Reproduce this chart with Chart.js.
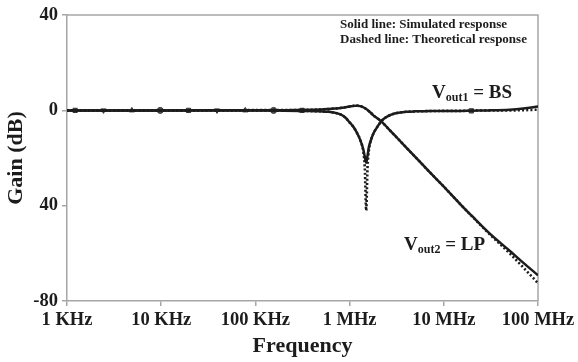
<!DOCTYPE html>
<html>
<head>
<meta charset="utf-8">
<script src="https://cdn.jsdelivr.net/npm/chart.js@4.4.1/dist/chart.umd.min.js"></script>
<style>
  html, body { margin: 0; padding: 0; background: #ffffff; }
  #wrap { width: 578px; height: 362px; position: relative; }
</style>
</head>
<body>
<div id="wrap"><canvas id="chart"></canvas></div>
<script>
// Frequency points (Hz) shared by all four response curves
const freqs = [1e3, 1e4, 1e5, 2e5, 3e5, 4e5, 5e5, 6e5, 7e5, 8e5, 9e5,
  1e6, 1.1e6, 1.2e6, 1.3e6, 1.4e6, 1.45e6, 1.5e6, 1.55e6, 1.6e6, 1.7e6, 1.8e6,
  2e6, 2.2e6, 2.5e6, 3e6, 4e6, 5e6, 7e6, 1e7, 1.5e7, 2e7, 3e7, 5e7, 7e7, 1e8];

// Band-stop output (Vout1), gain in dB
const bsSimulated = [0, 0, 0, -0.1, -0.2, -0.3, -0.4, -0.6, -1.0, -1.7, -3.0,
  -5.0, -7.0, -9.5, -12.5, -16.5, -19.5, -22, -19, -15.5, -12, -9.5,
  -6.5, -4.3, -2.6, -1.3, -0.6, -0.4, -0.3, -0.2, -0.2, -0.1, 0, 0.3, 0.8, 1.6];
const bsTheoretical = [0, 0, 0, -0.1, -0.2, -0.3, -0.4, -0.6, -1.0, -1.7, -3.0,
  -5.0, -7.0, -9.5, -12.5, -17.5, -24, -42, -24, -17, -12, -9.5,
  -6.5, -4.3, -2.6, -1.3, -0.6, -0.4, -0.3, -0.2, -0.2, -0.1, 0, 0, 0.1, 0.3];

// Low-pass output (Vout2), gain in dB
const lpSimulated = [0, 0, 0.1, 0.1, 0.2, 0.3, 0.4, 0.6, 0.8, 1.0, 1.3,
  1.6, 1.9, 2.0, 1.8, 1.3, 1.0, 0.6, 0.2, -0.3, -1.2, -2.2,
  -3.5, -4.8, -7.1, -10.4, -15.6, -19.6, -25.7, -32, -39.4, -44.4, -51.3, -58.9, -64, -69.2];
const lpTheoretical = [0, 0, 0.1, 0.1, 0.2, 0.3, 0.4, 0.6, 0.8, 1.0, 1.3,
  1.6, 1.9, 2.0, 1.8, 1.3, 1.0, 0.6, 0.2, -0.3, -1.2, -2.2,
  -3.5, -4.8, -7.1, -10.4, -15.6, -19.6, -25.7, -32, -39.4, -44.5, -51.6, -60, -66, -72.5];

// Simulation sample markers along the pass band
const sampleFreqs = [1.22e3, 2.44e3, 4.88e3, 9.77e3, 1.95e4, 3.91e4, 7.81e4, 1.56e5, 3.13e5, 1.96e7];
const sampleGains = [0, 0, 0, 0, 0, 0, 0, 0, 0, -0.2];
const sampleStyles = ['rect', 'triangle', 'triangle', 'circle', 'rect', 'triangle', 'triangle', 'circle', 'rect', 'rect'];
const sampleRotations = [0, 180, 0, 0, 0, 180, 0, 0, 0, 0];

// Axis ticks
const xTickValues = [1e3, 1e4, 1e5, 1e6, 1e7, 1e8];
const xTickLabels = ['1 KHz', '10 KHz', '100 KHz', '1 MHz', '10 MHz', '100 MHz'];
const yTickValues = [40, 0, -40, -80];
const yTickLabels = ['40', '0', '40', '-80'];

const SERIF = "'Liberation Serif', 'Times New Roman', serif";
const INK = '#1c1c1c';
const AXIS = '#a6a6a6';

const pts = (xs, ys) => xs.map((x, i) => ({ x: x, y: ys[i] }));

// Top and right frame of the plot area
const framePlugin = {
  id: 'frame',
  beforeDatasetsDraw(chart) {
    const { ctx, chartArea: a } = chart;
    ctx.save();
    ctx.strokeStyle = AXIS;
    ctx.lineWidth = 1.5;
    ctx.beginPath();
    ctx.moveTo(a.left, a.top);
    ctx.lineTo(a.right, a.top);
    ctx.lineTo(a.right, a.bottom);
    ctx.stroke();
    ctx.restore();
  }
};

// Text notes inside the plot
const notesPlugin = {
  id: 'notes',
  afterDraw(chart) {
    const { ctx } = chart;
    ctx.save();
    ctx.fillStyle = INK;
    ctx.textBaseline = 'alphabetic';
    ctx.textAlign = 'left';
    ctx.font = 'bold 13px ' + SERIF;
    ctx.fillText('Solid line: Simulated response', 340, 28);
    ctx.fillText('Dashed line: Theoretical response', 340, 43);

    const label = (x, y, sub, rest) => {
      ctx.font = 'bold 19px ' + SERIF;
      ctx.fillText('V', x, y);
      let cx = x + ctx.measureText('V').width;
      ctx.font = 'bold 12px ' + SERIF;
      ctx.fillText(sub, cx, y + 3);
      cx += ctx.measureText(sub).width;
      ctx.font = 'bold 19px ' + SERIF;
      ctx.fillText(rest, cx, y);
    };
    label(432, 98, 'out1', ' = BS');
    label(404, 250, 'out2', ' = LP');
    ctx.restore();
  }
};

const lineBase = {
  showLine: true,
  pointRadius: 0,
  borderColor: INK,
  backgroundColor: INK,
  borderWidth: 2.5,
  cubicInterpolationMode: 'monotone',
  fill: false
};
const dotted = { borderDash: [2, 2.2], borderWidth: 2.6 };

new Chart(document.getElementById('chart'), {
  type: 'scatter',
  data: {
    datasets: [
      Object.assign({ label: 'BS simulated', data: pts(freqs, bsSimulated) }, lineBase),
      Object.assign({ label: 'LP simulated', data: pts(freqs, lpSimulated) }, lineBase),
      Object.assign({ label: 'BS theoretical', data: pts(freqs, bsTheoretical) }, lineBase, dotted),
      Object.assign({ label: 'LP theoretical', data: pts(freqs, lpTheoretical) }, lineBase, dotted),
      {
        label: 'Samples',
        data: pts(sampleFreqs, sampleGains),
        showLine: false,
        pointStyle: sampleStyles,
        rotation: sampleRotations,
        pointRadius: 3,
        borderWidth: 1,
        borderColor: '#333',
        backgroundColor: '#555'
      }
    ]
  },
  options: {
    responsive: true,
    maintainAspectRatio: false,
    animation: false,
    events: [],
    layout: { padding: { top: 14, right: 40, left: 0, bottom: 0 } },
    plugins: { legend: { display: false }, tooltip: { enabled: false } },
    scales: {
      x: {
        type: 'logarithmic',
        min: 1e3,
        max: 1e8,
        afterBuildTicks: (s) => { s.ticks = xTickValues.map(v => ({ value: v })); },
        afterFit: (s) => { s.height = 61; },
        ticks: {
          autoSkip: false,
          maxRotation: 0,
          padding: 3,
          color: INK,
          font: { family: SERIF, size: 18.5, weight: 'bold' },
          callback: (v) => { const i = xTickValues.indexOf(v); return i >= 0 ? xTickLabels[i] : ''; }
        },
        grid: { display: true, drawOnChartArea: false, drawTicks: true, tickLength: 5, color: AXIS, lineWidth: 1.5 },
        border: { display: true, color: AXIS, width: 1.5 },
        title: {
          display: true, text: 'Frequency', color: INK,
          font: { family: SERIF, size: 22, weight: 'bold' },
          padding: { top: 0, bottom: 2 }
        }
      },
      y: {
        min: -80,
        max: 40,
        afterBuildTicks: (s) => { s.ticks = yTickValues.map(v => ({ value: v })); },
        afterFit: (s) => { s.width = 67; },
        ticks: {
          autoSkip: false,
          padding: 4,
          color: INK,
          font: { family: SERIF, size: 18.5, weight: 'bold' },
          callback: (v) => { const i = yTickValues.indexOf(v); return i >= 0 ? yTickLabels[i] : ''; }
        },
        grid: { display: true, drawOnChartArea: false, drawTicks: true, tickLength: 5, color: AXIS, lineWidth: 1.5 },
        border: { display: true, color: AXIS, width: 1.5 },
        title: {
          display: true, text: 'Gain (dB)', color: INK,
          font: { family: SERIF, size: 22, weight: 'bold' },
          padding: { top: 3, bottom: 0 }
        }
      }
    }
  },
  plugins: [framePlugin, notesPlugin]
});
</script>
</body>
</html>
